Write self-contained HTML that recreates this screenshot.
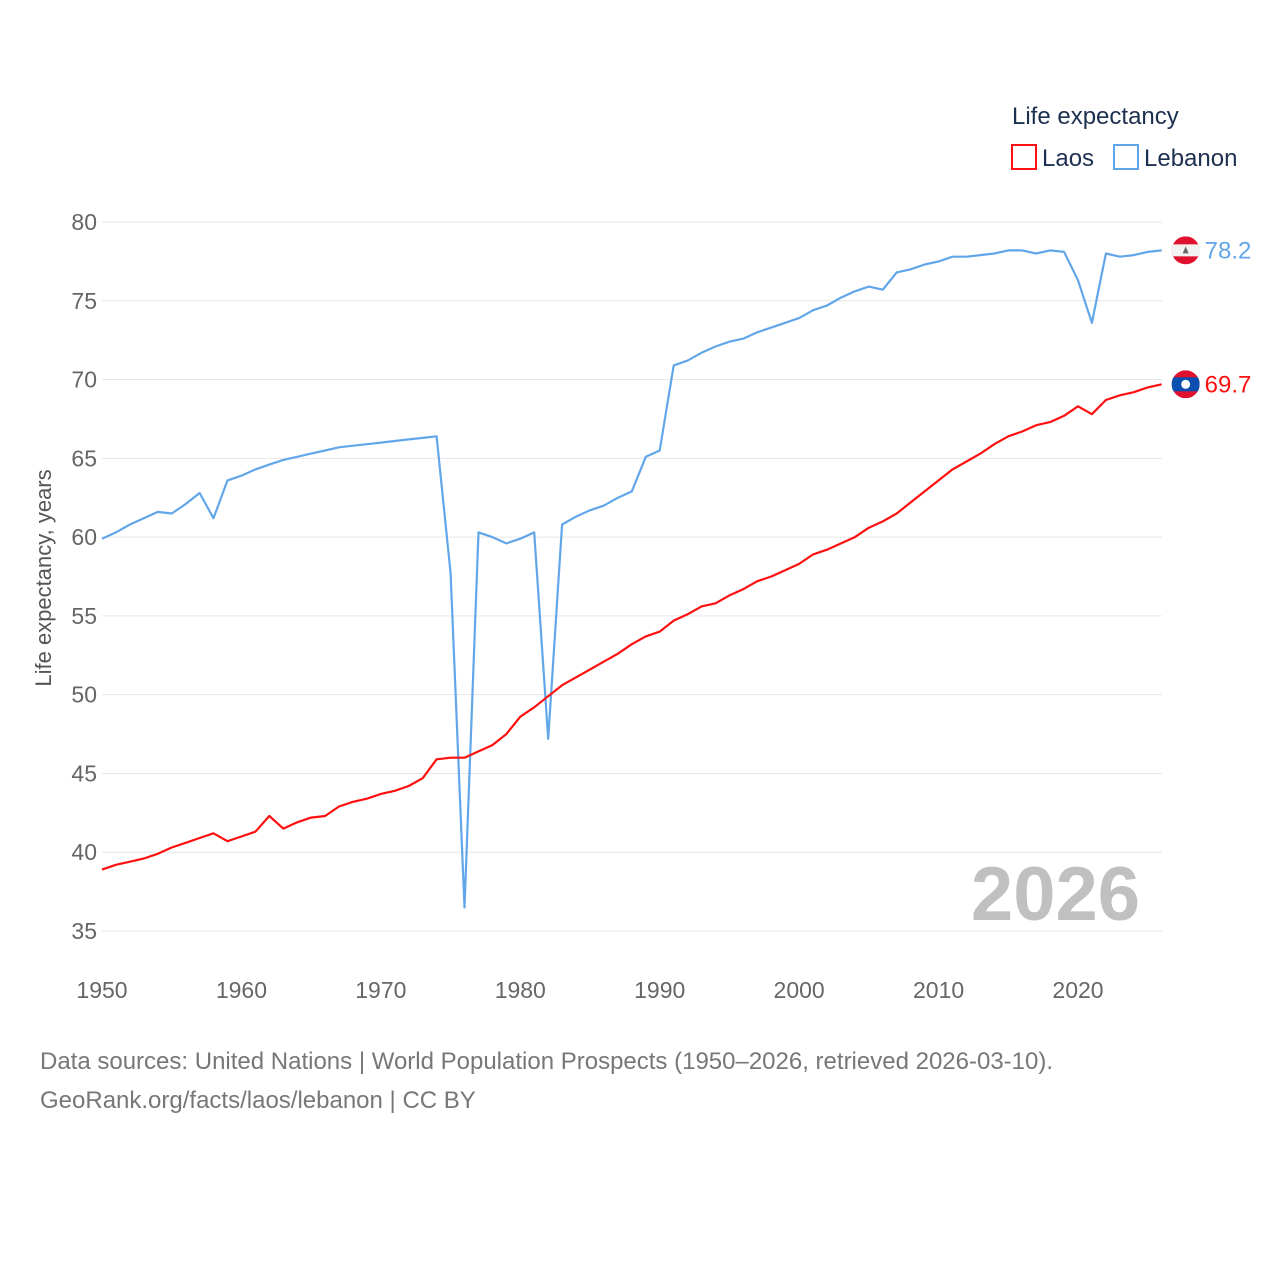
<!DOCTYPE html>
<html><head><meta charset="utf-8"><style>
html,body{margin:0;padding:0;background:#fff;}
body{width:1280px;height:1280px;overflow:hidden;font-family:"Liberation Sans",sans-serif;}
</style></head><body>
<svg id="chart" width="1280" height="1280" xmlns="http://www.w3.org/2000/svg" font-family="Liberation Sans, sans-serif">
<text x="1012" y="124" font-size="24" fill="#1d3050">Life expectancy</text>
<g><rect x="1012" y="145" width="24" height="24" fill="none" stroke="#ff1010" stroke-width="2"/><text x="1042" y="166" font-size="24" fill="#1d3050">Laos</text></g>
<g><rect x="1114" y="145" width="24" height="24" fill="none" stroke="#62a6ea" stroke-width="2"/><text x="1144" y="166" font-size="24" fill="#1d3050">Lebanon</text></g>
<g id="grid"></g>
<g id="yticks"></g>
<g id="xticks"></g>
<text transform="translate(51,578) rotate(-90)" text-anchor="middle" font-size="22" fill="#555">Life expectancy, years</text>
<text x="1140" y="920" text-anchor="end" font-size="76" font-weight="bold" fill="#c0c0c0">2026</text>
<g id="series"></g>
<text x="40" y="1069" font-size="24" fill="#777">Data sources: United Nations | World Population Prospects (1950–2026, retrieved 2026-03-10).</text>
<text x="40" y="1108" font-size="24" fill="#777">GeoRank.org/facts/laos/lebanon | CC BY</text>
</svg>
<script>
const years = [];
for (let y = 1950; y <= 2026; y++) years.push(y);
const lebanon = [59.9,60.3,60.8,61.2,61.6,61.5,62.1,62.8,61.2,63.6,63.9,64.3,64.6,64.9,65.1,65.3,65.5,65.7,65.8,65.9,66.0,66.1,66.2,66.3,66.4,57.7,36.5,60.3,60.0,59.6,59.9,60.3,47.2,60.8,61.3,61.7,62.0,62.5,62.9,65.1,65.5,70.9,71.2,71.7,72.1,72.4,72.6,73.0,73.3,73.6,73.9,74.4,74.7,75.2,75.6,75.9,75.7,76.8,77.0,77.3,77.5,77.8,77.8,77.9,78.0,78.2,78.2,78.0,78.2,78.1,76.3,73.6,78.0,77.8,77.9,78.1,78.2];
const laos = [38.9,39.2,39.4,39.6,39.9,40.3,40.6,40.9,41.2,40.7,41.0,41.3,42.3,41.5,41.9,42.2,42.3,42.9,43.2,43.4,43.7,43.9,44.2,44.7,45.9,46.0,46.0,46.4,46.8,47.5,48.6,49.2,49.9,50.6,51.1,51.6,52.1,52.6,53.2,53.7,54.0,54.7,55.1,55.6,55.8,56.3,56.7,57.2,57.5,57.9,58.3,58.9,59.2,59.6,60.0,60.6,61.0,61.5,62.2,62.9,63.6,64.3,64.8,65.3,65.9,66.4,66.7,67.1,67.3,67.7,68.3,67.8,68.7,69.0,69.2,69.5,69.7];
const yTicks = [35,40,45,50,55,60,65,70,75,80];
const xTicks = [1950,1960,1970,1980,1990,2000,2010,2020];
const labelLaos = "69.7", labelLebanon = "78.2";

const NS = "http://www.w3.org/2000/svg";
const X = yr => 102 + (yr - 1950) * (1078 - 102) / 70;
const Y = v => 222 + (80 - v) * (931 - 222) / 45;
function mk(tag, attrs, parent){const e=document.createElementNS(NS,tag);for(const k in attrs)e.setAttribute(k,attrs[k]);parent.appendChild(e);return e;}
const grid=document.getElementById('grid'), yt=document.getElementById('yticks'), xt=document.getElementById('xticks'), ser=document.getElementById('series');
yTicks.forEach(v=>{
  const l=mk('line',{x1:102,x2:1162,y1:Y(v),y2:Y(v),stroke:'#e6e6e6','stroke-width':1},grid);
  
  
  const t=mk('text',{x:97,y:Y(v)+8,'text-anchor':'end','font-size':23,fill:'#666'},yt);
  t.textContent=v;
  
  
});
xTicks.forEach(v=>{
  const t=mk('text',{x:X(v),y:998,'text-anchor':'middle','font-size':23,fill:'#666'},xt);
  t.textContent=v;
  
  
});
function line(data,color,name){
  const d=data.map((v,i)=>(i?'L':'M')+X(years[i]).toFixed(1)+','+Y(v).toFixed(1)).join('');
  const p=mk('path',{d:d,fill:'none',stroke:color,'stroke-width':2.2,'stroke-linejoin':'round'},ser);
  
  
}
line(lebanon,'#62a6ea','line-lebanon');
line(laos,'#ff1010','line-laos');
const lx=X(2026)+24;
// Lebanon flag
const lv=lebanon[lebanon.length-1], ly=Y(lv);
const gLb=mk('g',{},ser);


mk('clipPath',{id:'c1'},gLb).appendChild(Object.assign(document.createElementNS(NS,'circle'),{}));
const c1=document.querySelector('#c1 circle');c1.setAttribute('cx',lx);c1.setAttribute('cy',ly);c1.setAttribute('r',14);
mk('rect',{x:lx-14,y:ly-14,width:28,height:28,fill:'#e0102f','clip-path':'url(#c1)'},gLb);
mk('rect',{x:lx-14,y:ly-6,width:28,height:12,fill:'#f2f2f2','clip-path':'url(#c1)'},gLb);
mk('path',{d:`M${lx},${ly-4}L${lx+3},${ly+3}L${lx-3},${ly+3}Z`,fill:'#666'},gLb);
const tLb=mk('text',{x:lx+19,y:ly+8,'font-size':24,fill:'#62a6ea'},ser);
tLb.textContent=labelLebanon;


// Laos flag
const av=laos[laos.length-1], ay=Y(av);
const gLa=mk('g',{},ser);


const cp=mk('clipPath',{id:'c2'},gLa);mk('circle',{cx:lx,cy:ay,r:14},cp);
mk('rect',{x:lx-14,y:ay-14,width:28,height:28,fill:'#e0102f','clip-path':'url(#c2)'},gLa);
mk('rect',{x:lx-14,y:ay-7,width:28,height:14,fill:'#0a4fb0','clip-path':'url(#c2)'},gLa);
mk('circle',{cx:lx,cy:ay,r:4.5,fill:'#fff'},gLa);
const tLa=mk('text',{x:lx+19,y:ay+8,'font-size':24,fill:'#ff1010'},ser);
tLa.textContent=labelLaos;


</script>
</body></html>
